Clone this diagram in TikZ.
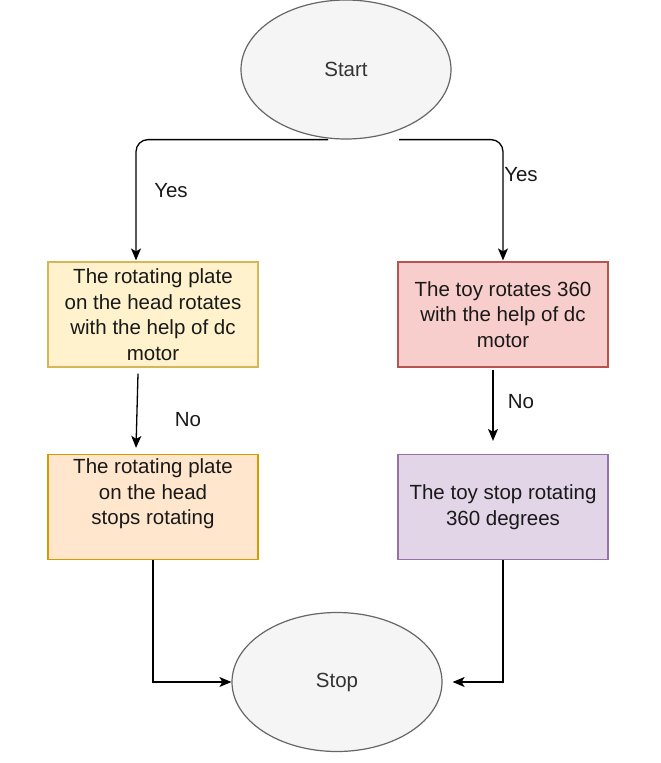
\documentclass[tikz,border=0pt]{standalone}
\usepackage{fontspec}
\setmainfont{Liberation Sans}
\usetikzlibrary{shapes.geometric,arrows.meta,calc}
\definecolor{termfill}{HTML}{F5F5F5}
\definecolor{termdraw}{HTML}{666666}
\definecolor{termtext}{HTML}{333333}
\definecolor{yfill}{HTML}{FFF2CC}\definecolor{ydraw}{HTML}{D6B656}
\definecolor{rfill}{HTML}{F8CECC}\definecolor{rdraw}{HTML}{B85450}
\definecolor{ofill}{HTML}{FFE6CC}\definecolor{odraw}{HTML}{D79B00}
\definecolor{pfill}{HTML}{E1D5E7}\definecolor{pdraw}{HTML}{9673A6}
\tikzset{
  term/.style={ellipse, draw=termdraw, fill=termfill, text=termtext, line width=1.2pt,
    minimum width=210pt, minimum height=139pt, inner sep=0pt, font=\fontsize{20.5}{25.5}\selectfont},
  procbox/.style={rectangle, line width=1.2pt, minimum width=210pt, minimum height=105pt,
    inner sep=0pt, align=center, text=black!90, font=\fontsize{20.5}{25.5}\selectfont},
  lbl/.style={font=\fontsize{20.5}{25.5}\selectfont, text=black!90},
  conn/.style={line width=1.3pt, -{Stealth[length=12pt,width=10pt,inset=3pt]}}
}
\begin{document}
\begin{tikzpicture}[x=1pt,y=-1pt]
\useasboundingbox (0,0) rectangle (661,763);
\node[term] (start) at (346,69.5) {Start};
\node[term] (stop) at (337,682) {Stop};
\node[procbox, fill=yfill, draw=ydraw] (b1) at (153,314.5) {The rotating plate\\on the head rotates\\with the help of dc\\motor};
\node[procbox, fill=rfill, draw=rdraw] (b2) at (503,314.5) {};
\node[lbl, align=center] (t2) at (503,314.5) {The toy rotates 360\\with the help of dc\\motor};
\node[procbox, fill=ofill, draw=odraw] (b3) at (153,507) {};
\node[lbl, align=center] (t3) at (153,494) {The rotating plate\\on the head\\stops rotating};
\node[procbox, fill=pfill, draw=pdraw] (b4) at (503,507) {The toy stop rotating\\360 degrees};
% connector end points
\coordinate (s1) at ($(start.south)+(-18,0)$);
\coordinate (s2) at ($(start.south)+(53,0)$);
\coordinate (e1) at ($(b1.north)+(-17,-1)$);
\coordinate (e2) at ($(b2.north)+(0,-1)$);
\coordinate (m1) at ($(b1.south)+(-15,6)$);
\coordinate (n1) at ($(b3.north)+(-17,-6)$);
\coordinate (m2) at ($(b2.south)+(-10,2)$);
\coordinate (n2) at ($(b4.north)+(-10,-13)$);
\coordinate (q2) at ($(stop.east)+(10,0)$);
\draw[conn, rounded corners=12pt] (s1) -| (e1);
\draw[conn, rounded corners=12pt] (s2) -| (e2);
\draw[conn] (m1) -- (n1);
\draw[conn] (m2) -- (n2);
\draw[conn] (b3.south) |- (stop.west);
\draw[conn] (b4.south) |- (q2);
\node[lbl] (y1) at (171,191) {Yes};
\node[lbl] (y2) at (521,175) {Yes};
\node[lbl] (no1) at (188,420) {No};
\node[lbl] (no2) at (521,402) {No};
\end{tikzpicture}
\end{document}
